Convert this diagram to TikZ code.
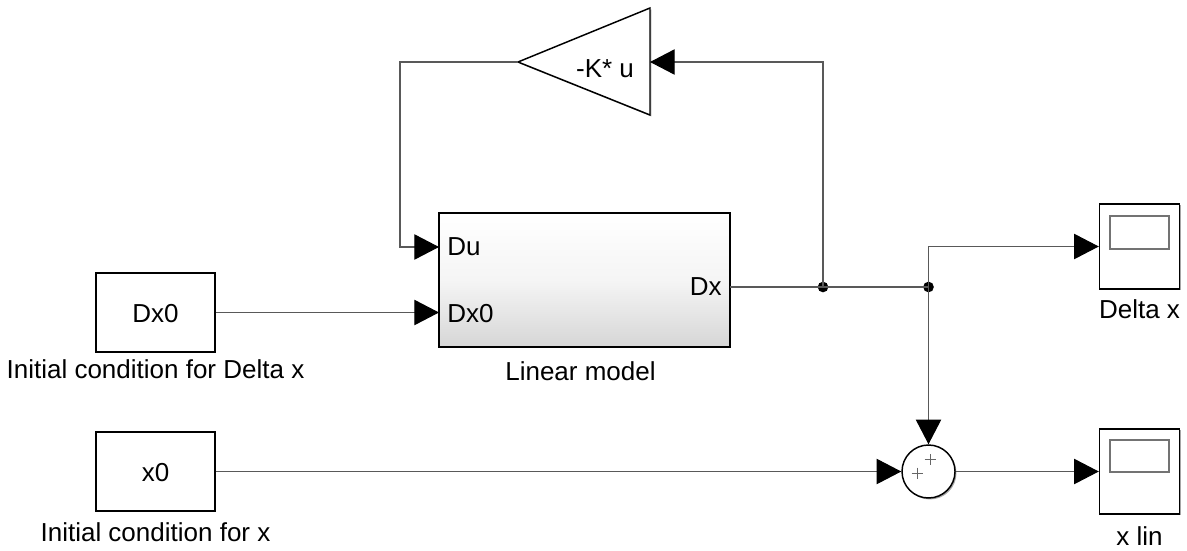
\documentclass[tikz,border=0pt]{standalone}
\usepackage{fontspec}
\setmainfont{Liberation Sans}
\usetikzlibrary{arrows.meta,shadows,calc}
\begin{document}
\begin{tikzpicture}[x=0.75pt,y=-0.75pt,
  font=\fontsize{19.5}{22}\selectfont,
  shd/.style={drop shadow={shadow xshift=1.1pt,shadow yshift=-1.1pt,opacity=0.35,fill=black}},
  blk/.style={draw=black,line width=1.1pt,fill=white,inner sep=0pt,shd},
  sig/.style={draw=black!65,line width=0.8pt},
  arr/.style={sig,-{Triangle[length=18.5pt,width=19pt,color=black]}},
  scr/.style={draw=black!55,line width=0.8pt},
  txt/.style={inner sep=0pt},
  jdot/.style={circle,fill=black,inner sep=0pt,minimum size=8pt},
  plusl/.style={draw=black!60,line width=0.6pt}
]
\useasboundingbox (0,0) rectangle (1187,550);

% source blocks
\node[blk,minimum width=119*0.75pt,minimum height=79*0.75pt] (dx0) at (155.5,312.5) {};
\node[txt,anchor=base] (dx0t) at (155.5,322) {Dx0};
\node[txt,anchor=base] (dx0lbl) at (155.5,378) {Initial condition for Delta x};

\node[blk,minimum width=119*0.75pt,minimum height=79*0.75pt] (x0) at (155.5,471.5) {};
\node[txt,anchor=base] (x0t) at (155.5,481) {x0};
\node[txt,anchor=base] (x0lbl) at (155.5,541) {Initial condition for x};

% linear model
\node[blk,top color=white,bottom color=black!16,middle color=white!96!black,
      minimum width=291*0.75pt,minimum height=134*0.75pt] (lm) at (584.5,280) {};
\node[txt,anchor=base west] (du) at (447,255) {Du};
\node[txt,anchor=base west] (dx0p) at (447,322) {Dx0};
\node[txt,anchor=base east] (dxp) at (722,295) {Dx};
\node[txt,anchor=base] (lmlbl) at (580.5,380) {Linear model};
\coordinate (pDu) at (439,247);
\coordinate (pDx0) at (439,312.5);
\coordinate (pDx) at (730,287);

% gain
\coordinate (gtip) at (518,62);
\coordinate (gin) at (650,62);
\draw[draw=black,line width=1.1pt,fill=white,shd,line join=miter] (650,8) -- (650,115) -- (gtip) -- cycle;
\node[txt,anchor=base] (gain) at (605,77) {-K* u};
\coordinate (c1) at (400,62);

% scopes
\node[blk,minimum width=80*0.75pt,minimum height=85*0.75pt] (sc1) at (1139.5,246.5) {};
\draw[scr] ($(sc1.center)+(-29.5,-30.5)$) rectangle ($(sc1.center)+(29.5,2.5)$);
\node[txt,anchor=base] (sc1lbl) at (1139.5,318) {Delta x};

\node[blk,minimum width=80*0.75pt,minimum height=85*0.75pt] (sc2) at (1139.5,471.5) {};
\draw[scr] ($(sc2.center)+(-29.5,-31.5)$) rectangle ($(sc2.center)+(29.5,0.5)$);
\node[txt,anchor=base] (sc2lbl) at (1139.5,545) {x lin};

% sum
\node[draw=black,line width=1.1pt,fill=white,circle,inner sep=0pt,minimum size=53*0.75pt,shd] (sum) at (928.5,471.5) {};
\coordinate (p1) at (917,473);
\coordinate (p2) at (930,459.5);
\draw[plusl] ($(p1)+(-5.5,0)$) -- ($(p1)+(5.5,0)$) ($(p1)+(0,-5.5)$) -- ($(p1)+(0,5.5)$);
\draw[plusl] ($(p2)+(-5.5,0)$) -- ($(p2)+(5.5,0)$) ($(p2)+(0,-5.5)$) -- ($(p2)+(0,5.5)$);

% junctions
\node[jdot] (j1) at (823,287) {};
\node[jdot] (j2) at (928.5,287) {};

% connectors
\draw[sig] (pDx) -- (j2.center);
\draw[arr] (j1.center) |- (gin);
\draw[arr] (gtip) -- (c1) |- (pDu);
\draw[arr] (dx0.east) -- (pDx0);
\draw[arr] (j2.center) |- (sc1.west);
\draw[arr] (j2.center) -- (sum.north);
\draw[arr] (x0.east) -- (sum.west);
\draw[arr] (sum.east) -- (sc2.west);
\end{tikzpicture}
\end{document}
